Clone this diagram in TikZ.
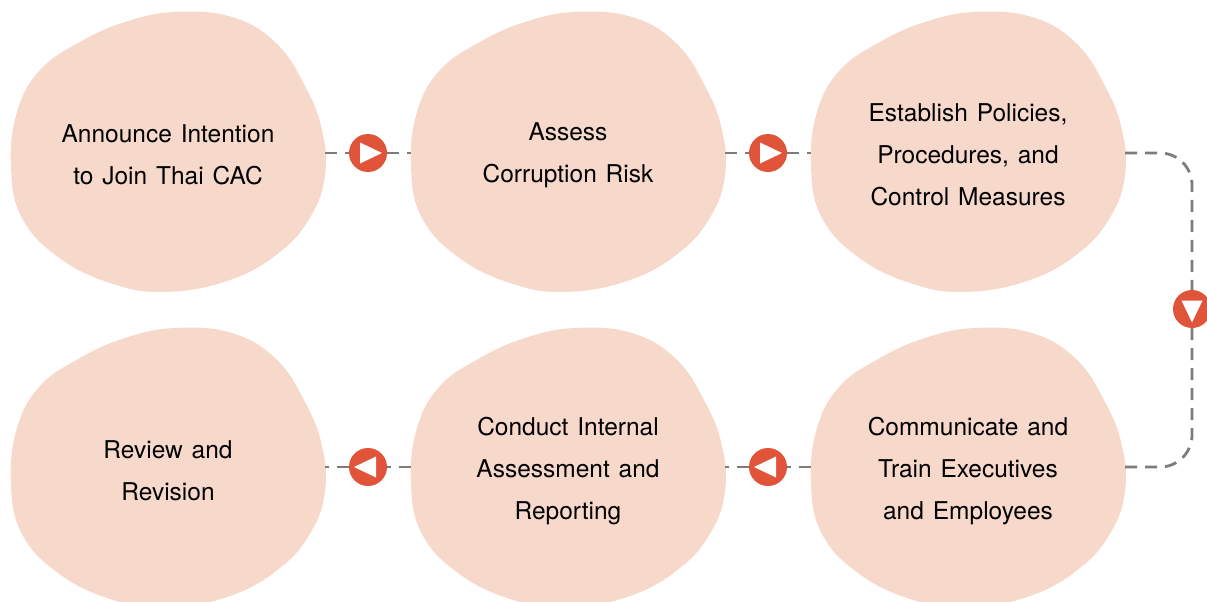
\documentclass[tikz,border=0pt]{standalone}
\usepackage{fontspec}
\setmainfont{TeX Gyre Heros}[WordSpace=1.3]
\usetikzlibrary{calc}
\definecolor{blobc}{HTML}{F7D9CC}
\definecolor{markc}{HTML}{E0553A}
\definecolor{linec}{HTML}{7F7B7B}
\tikzset{
  steptext/.style={minimum width=314pt, minimum height=280pt, align=center,
    font=\fontsize{24.5}{42}\selectfont, text=black, inner sep=0pt},
  marker/.style={circle, fill=markc, minimum size=38pt, inner sep=0pt},
  conn/.style={draw=linec, line width=2.8pt, dash pattern=on 12pt off 8pt},
  blobpic/.pic={
    \fill[blobc] plot[smooth cycle, tension=0.7] coordinates {
      (175,12) (232,17) (276,43) (305,86) (322,130) (325,175)
      (311,216) (280,252) (230,280) (165,292) (110,283) (58,257)
      (22,218) (11,168) (17,112) (40,70) (80,42) (125,22)};
  },
  triright/.pic={\fill[white] (-8,-10.5) -- (14,0) -- (-8,10.5) -- cycle;},
  trileft/.pic={\fill[white] (8,-10.5) -- (-14,0) -- (8,10.5) -- cycle;},
  tridown/.pic={\fill[white] (-10.5,-8.5) -- (10.5,-8.5) -- (0,13.5) -- cycle;},
}
\begin{document}
\begin{tikzpicture}[x=1pt,y=-1pt]
\useasboundingbox (0,0) rectangle (1207,602);
% blobs
\pic at (0,0) {blobpic};
\pic at (400,0) {blobpic};
\pic at (800,0) {blobpic};
\pic at (0,316) {blobpic};
\pic at (400,316) {blobpic};
\pic at (800,316) {blobpic};
% step texts
\node[steptext] (b1) at (168,155) {Announce Intention\\to Join Thai CAC};
\node[steptext] (b2) at (568,155) {Assess\\Corruption Risk};
\node[steptext] (b3) at (968,155) {Establish Policies,\\Procedures, and\\Control Measures};
\node[steptext] (b6) at (968,471) {Communicate and\\Train Executives\\and Employees};
\node[steptext] (b5) at (568,471) {Conduct Internal\\Assessment and\\Reporting};
\node[steptext] (b4) at (168,471) {Review and\\Revision};
% markers
\node[marker] (m1) at (368,153) {};
\node[marker] (m2) at (768,153) {};
\node[marker] (m3) at (1192,309) {};
\node[marker] (m4) at (768,467) {};
\node[marker] (m5) at (368,467) {};
\pic at (m1.center) {triright};
\pic at (m2.center) {triright};
\pic at (m3.center) {tridown};
\pic at (m4.center) {trileft};
\pic at (m5.center) {trileft};
% connectors
\draw[conn] (b1.east |- m1.center) -- (m1.west);
\draw[conn] (m1.east) -- (b2.west |- m1.center);
\draw[conn] (b2.east |- m2.center) -- (m2.west);
\draw[conn] (m2.east) -- (b3.west |- m2.center);
\draw[conn, rounded corners=32pt] (b3.east |- m2.center) -| (m3.north);
\draw[conn, rounded corners=32pt] (m3.south) |- (b6.east |- m4.center);
\draw[conn] (b6.west |- m4.center) -- (m4.east);
\draw[conn] (m4.west) -- (b5.east |- m4.center);
\draw[conn] (b5.west |- m5.center) -- (m5.east);
\draw[conn] (m5.west) -- (b4.east |- m5.center);
\end{tikzpicture}
\end{document}
